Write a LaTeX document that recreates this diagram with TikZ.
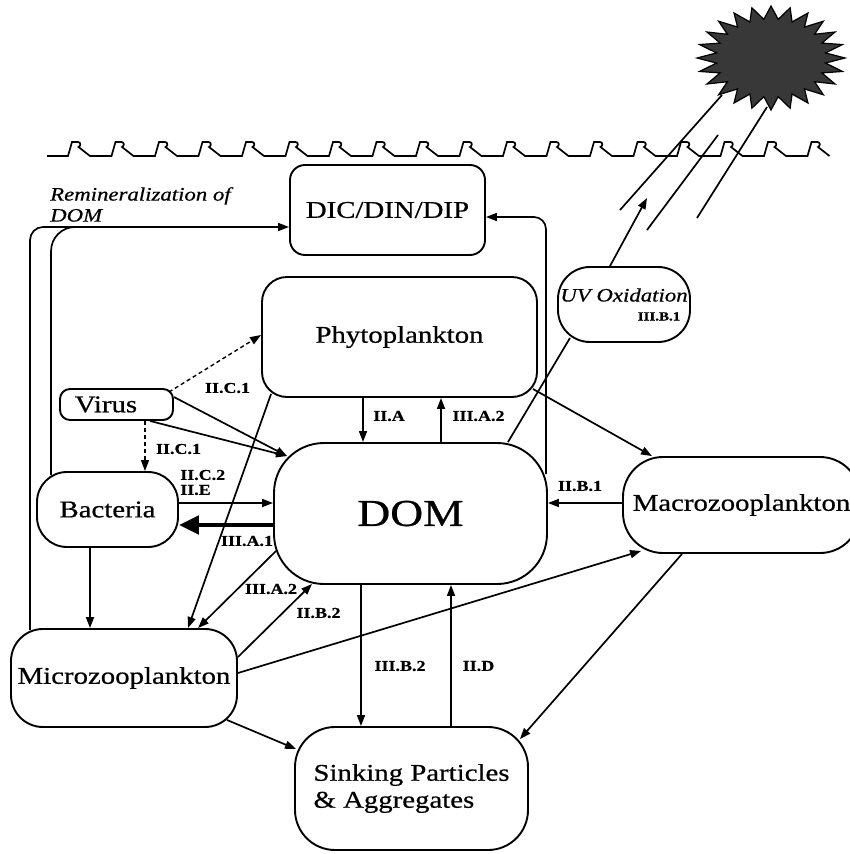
\documentclass[tikz,border=0pt]{standalone}
\usepackage{fontspec}
\setmainfont{Liberation Serif}[FakeStretch=1.2,FakeBold=0.6]
\usetikzlibrary{arrows.meta,calc}
\begin{document}
\begin{tikzpicture}[x=1pt,y=-1pt,
  box/.style={draw, line width=1.9pt, rectangle, inner sep=2pt, font=\fontsize{24}{27}\selectfont},
  arr/.style={line width=1.7pt, -{Triangle[length=11pt,width=8pt]}},
  thk/.style={line width=4.8pt, -{Triangle[length=20pt,width=18pt]}},
  dsh/.style={line width=1.4pt, dash pattern=on 4pt off 3pt, -{Triangle[length=11pt,width=8pt]}},
  ln/.style={line width=1.7pt},
  lab/.style={font=\fontsize{15}{16}\selectfont\bfseries, inner sep=0pt}]
\useasboundingbox (0,0) rectangle (850,854);
\clip (0,0) rectangle (850,854);
% water surface
\draw[ln] (47,156) \foreach \k in {0,...,17} { -- ({68+43.5*\k},156) -- ({72+43.5*\k},142) -- ({78+43.5*\k},142) .. controls ({81+43.5*\k},142) and ({81+43.5*\k},146) .. ({78.5+43.5*\k},147) -- ({90+43.5*\k},156) };
% sun
\fill[black!78, draw=black, line width=1.2pt] (845,58) \foreach \i in {1,...,47} { -- ({771+(74-19*mod(\i,2))*cos(\i*7.5)},{58+(52-13*mod(\i,2))*sin(\i*7.5)}) } -- cycle;
\draw[ln] (722,95) -- (620,210);
\draw[ln] (718,135) -- (647,230);
\draw[ln] (767,107) -- (697,218);
% boxes
\node[box, rounded corners=15pt, minimum width=195pt, minimum height=90pt] (dic) at (387.5,210) {DIC/DIN/DIP};
\node[box, rounded corners=25pt, minimum width=275pt, minimum height=120pt] (phyto) at (399.5,337) {Phytoplankton};
\node[box, rounded corners=50pt, minimum width=273pt, minimum height=141pt, font=\fontsize{38}{40}\selectfont] (dom) at (410.5,513.5) {DOM};
\node[box, rounded corners=10pt, minimum width=113pt, minimum height=31pt] (virus) at (116.5,404.5) {\hspace*{-21pt}Virus};
\node[box, rounded corners=30pt, minimum width=141pt, minimum height=75pt] (bact) at (107.5,509.5) {Bacteria};
\node[box, rounded corners=32pt, minimum width=226pt, minimum height=98pt] (micro) at (124,678) {Microzooplankton};
\node[box, rounded corners=40pt, minimum width=233pt, minimum height=123pt, align=left] (sink) at (411.5,788.5) {Sinking Particles\\\& Aggregates};
\node[box, rounded corners=40pt, minimum width=237pt, minimum height=96pt] (macro) at (741.5,505) {Macrozooplankton};
\node[box, rounded corners=32pt, minimum width=132pt, minimum height=75pt, align=center, font=\fontsize{19}{21}\selectfont\itshape] (uv) at (624,304.5) {UV Oxidation\\[-2pt]{\fontsize{12.5}{13}\selectfont\upshape\bfseries\hspace*{70pt}III.B.1}};
\node[font=\fontsize{19}{21}\selectfont\itshape, align=left, inner sep=0pt, anchor=north west] (remin) at (50,187) {Remineralization of\\DOM};
% remineralization loops
\draw[arr, rounded corners=13pt] ($(micro.north west)+(20,2)$) |- ([yshift=-17pt]dic.west);
\draw[ln, rounded corners=24pt] ($(bact.north west)+(15,4)$) |- (110,227);
\draw[arr, rounded corners=12pt] ($(dom.north east)+(-2,32)$) |- ([yshift=-7pt]dic.east);
% virus
\draw[dsh] ([xshift=-5pt,yshift=-4pt]virus.north east) -- ([yshift=2pt]phyto.west);
\draw[dsh] ([xshift=28.5pt]virus.south) coordinate (v1) -- (v1 |- bact.north);
\coordinate (domnw) at ($(dom.north west)+(14,14)$);
\draw[arr] ([yshift=7.5pt]virus.east) -- (domnw);
\draw[arr] ([xshift=33.5pt]virus.south) -- (domnw);
% bacteria
\draw[arr] ([yshift=6.5pt]bact.east) coordinate (b1) -- (b1 -| dom.west);
\draw[thk] ([yshift=-11.5pt]dom.west) coordinate (d1) -- (d1 -| bact.east);
\draw[arr] ([xshift=-17.5pt]bact.south) coordinate (b2) -- (b2 |- micro.north);
% phyto / micro / dom
\draw[arr] ($(phyto.south west)+(10,-4)$) -- ([xshift=64pt]micro.north);
\draw[arr] ($(dom.south west)+(3,-34)$) -- ([xshift=74pt]micro.north);
\draw[arr] ([yshift=21pt]micro.east) -- ($(dom.south west)+(39,-1)$);
\draw[arr] ([yshift=5pt]micro.east) -- ($(macro.south west)+(19,-3)$);
\draw[arr] ($(micro.south east)+(-11,-8)$) -- ($(sink.north west)+(2,23)$);
\draw[arr] ([xshift=-49.5pt]dom.south) coordinate (d2) -- (d2 |- sink.north);
\draw[arr] ([xshift=39.5pt]sink.north) coordinate (s1) -- (s1 |- dom.south);
\draw[arr] ([xshift=-59.5pt]macro.south) -- ($(sink.north east)+(-9,13)$);
\draw[arr] ([yshift=2pt]macro.west) coordinate (m1) -- (m1 -| dom.east);
\draw[arr] ($(phyto.south east)+(-5,-9)$) -- ([xshift=-89.5pt]macro.north);
\draw[arr] ([xshift=-36.5pt]phyto.south) coordinate (p1) -- (p1 |- dom.north);
\draw[arr] ([xshift=30.5pt]dom.north) coordinate (d3) -- (d3 |- phyto.south);
% UV
\draw[ln] ([xshift=97.5pt]dom.north) -- ($(uv.south)+(-54,-5)$);
\coordinate (uvtip) at (647,198);
\draw[arr] ([xshift=-14pt]uv.north) -- (uvtip);
% labels
\node[lab] (l1) at (227.5,388) {II.C.1};
\node[lab] (l2) at (178.5,449) {II.C.1};
\node[lab, anchor=west] (l3) at (180,475) {II.C.2};
\node[lab, anchor=west] (l4) at (180,490) {II.E};
\node[lab] (l5) at (247,541) {III.A.1};
\node[lab] (l6) at (271,589) {III.A.2};
\node[lab] (l7) at (318.5,613) {II.B.2};
\node[lab] (l8) at (400,666) {III.B.2};
\node[lab] (l9) at (478.5,666) {II.D};
\node[lab] (l10) at (580,486) {II.B.1};
\node[lab] (l11) at (389,416) {II.A};
\node[lab] (l12) at (478.5,416) {III.A.2};
\end{tikzpicture}
\end{document}
